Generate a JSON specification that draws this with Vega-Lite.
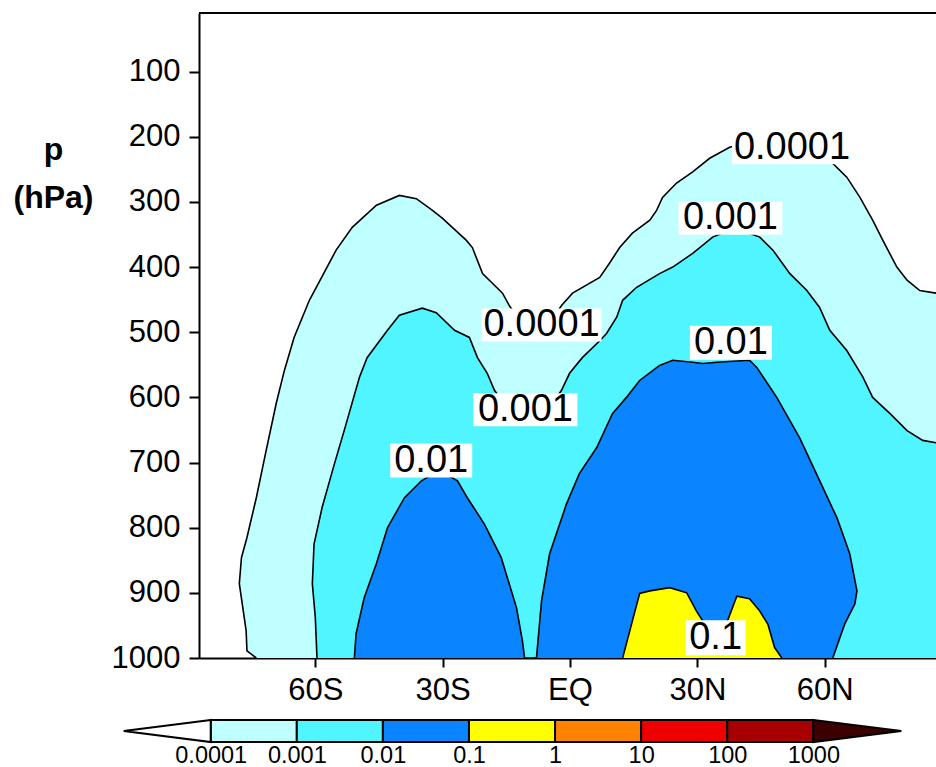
{
  "$schema": "https://vega.github.io/schema/vega-lite/v6.json",
  "background": "white",
  "padding": {"left": 13, "top": 12, "right": 0, "bottom": 0},
  "config": {"view": {"stroke": null}, "font": "Liberation Sans"},
  "spacing": 62,
  "bounds": "flush",
  "resolve": {"scale": {"x": "independent", "y": "independent", "shape": "independent", "color": "shared"}},
  "datasets": {
    "contours": [
      {"level": "0.0001", "lat": -73.9, "p": 1000}, {"level": "0.0001", "lat": -76.1, "p": 989}, {"level": "0.0001", "lat": -76.3, "p": 958}, {"level": "0.0001", "lat": -77.9, "p": 886}, {"level": "0.0001", "lat": -77.4, "p": 846}, {"level": "0.0001", "lat": -76.1, "p": 815}, {"level": "0.0001", "lat": -73.9, "p": 754}, {"level": "0.0001", "lat": -71.6, "p": 682}, {"level": "0.0001", "lat": -69.2, "p": 609}, {"level": "0.0001", "lat": -67.3, "p": 559}, {"level": "0.0001", "lat": -65.0, "p": 508}, {"level": "0.0001", "lat": -61.4, "p": 451}, {"level": "0.0001", "lat": -55.1, "p": 374}, {"level": "0.0001", "lat": -51.3, "p": 339}, {"level": "0.0001", "lat": -45.6, "p": 305}, {"level": "0.0001", "lat": -40.2, "p": 290}, {"level": "0.0001", "lat": -36.2, "p": 295}, {"level": "0.0001", "lat": -32.4, "p": 313}, {"level": "0.0001", "lat": -30.1, "p": 325}, {"level": "0.0001", "lat": -24.4, "p": 359}, {"level": "0.0001", "lat": -23.0, "p": 370}, {"level": "0.0001", "lat": -20.6, "p": 410}, {"level": "0.0001", "lat": -15.9, "p": 440}, {"level": "0.0001", "lat": -14.3, "p": 459}, {"level": "0.0001", "lat": -11.2, "p": 490}, {"level": "0.0001", "lat": -8.1, "p": 500}, {"level": "0.0001", "lat": -5.1, "p": 490}, {"level": "0.0001", "lat": -2.0, "p": 459}, {"level": "0.0001", "lat": 0.6, "p": 440}, {"level": "0.0001", "lat": 7.0, "p": 416}, {"level": "0.0001", "lat": 9.3, "p": 394}, {"level": "0.0001", "lat": 11.7, "p": 370}, {"level": "0.0001", "lat": 14.7, "p": 348}, {"level": "0.0001", "lat": 18.8, "p": 328}, {"level": "0.0001", "lat": 20.4, "p": 313}, {"level": "0.0001", "lat": 21.8, "p": 293}, {"level": "0.0001", "lat": 25.1, "p": 271}, {"level": "0.0001", "lat": 28.9, "p": 254}, {"level": "0.0001", "lat": 32.9, "p": 233}, {"level": "0.0001", "lat": 37.6, "p": 216}, {"level": "0.0001", "lat": 44.7, "p": 205}, {"level": "0.0001", "lat": 54.1, "p": 213}, {"level": "0.0001", "lat": 61.9, "p": 241}, {"level": "0.0001", "lat": 65.2, "p": 262}, {"level": "0.0001", "lat": 68.3, "p": 293}, {"level": "0.0001", "lat": 71.3, "p": 328}, {"level": "0.0001", "lat": 73.7, "p": 359}, {"level": "0.0001", "lat": 77.0, "p": 400}, {"level": "0.0001", "lat": 79.4, "p": 420}, {"level": "0.0001", "lat": 82.4, "p": 436}, {"level": "0.0001", "lat": 86.2, "p": 440}, {"level": "0.0001", "lat": 87.5, "p": 442},
      {"level": "0.001", "lat": -59.6, "p": 1000}, {"level": "0.001", "lat": -60.0, "p": 938}, {"level": "0.001", "lat": -60.7, "p": 886}, {"level": "0.001", "lat": -60.3, "p": 825}, {"level": "0.001", "lat": -58.4, "p": 769}, {"level": "0.001", "lat": -55.5, "p": 702}, {"level": "0.001", "lat": -53.2, "p": 651}, {"level": "0.001", "lat": -49.6, "p": 569}, {"level": "0.001", "lat": -47.8, "p": 539}, {"level": "0.001", "lat": -43.0, "p": 497}, {"level": "0.001", "lat": -40.2, "p": 474}, {"level": "0.001", "lat": -34.8, "p": 463}, {"level": "0.001", "lat": -31.5, "p": 470}, {"level": "0.001", "lat": -27.2, "p": 497}, {"level": "0.001", "lat": -23.7, "p": 508}, {"level": "0.001", "lat": -21.8, "p": 539}, {"level": "0.001", "lat": -19.5, "p": 563}, {"level": "0.001", "lat": -17.8, "p": 589}, {"level": "0.001", "lat": -14.3, "p": 620}, {"level": "0.001", "lat": -10.0, "p": 632}, {"level": "0.001", "lat": -5.3, "p": 620}, {"level": "0.001", "lat": -2.0, "p": 589}, {"level": "0.001", "lat": -0.1, "p": 563}, {"level": "0.001", "lat": 2.9, "p": 539}, {"level": "0.001", "lat": 7.0, "p": 513}, {"level": "0.001", "lat": 8.6, "p": 502}, {"level": "0.001", "lat": 11.0, "p": 477}, {"level": "0.001", "lat": 12.4, "p": 451}, {"level": "0.001", "lat": 15.7, "p": 431}, {"level": "0.001", "lat": 21.1, "p": 410}, {"level": "0.001", "lat": 24.2, "p": 400}, {"level": "0.001", "lat": 28.9, "p": 379}, {"level": "0.001", "lat": 33.6, "p": 354}, {"level": "0.001", "lat": 38.8, "p": 340}, {"level": "0.001", "lat": 44.7, "p": 354}, {"level": "0.001", "lat": 47.8, "p": 374}, {"level": "0.001", "lat": 51.8, "p": 410}, {"level": "0.001", "lat": 55.8, "p": 436}, {"level": "0.001", "lat": 58.8, "p": 462}, {"level": "0.001", "lat": 61.2, "p": 497}, {"level": "0.001", "lat": 65.2, "p": 528}, {"level": "0.001", "lat": 69.0, "p": 569}, {"level": "0.001", "lat": 71.3, "p": 600}, {"level": "0.001", "lat": 75.4, "p": 625}, {"level": "0.001", "lat": 79.4, "p": 651}, {"level": "0.001", "lat": 83.1, "p": 666}, {"level": "0.001", "lat": 87.5, "p": 671},
      {"level": "0.01", "lat": -50.8, "p": 1000}, {"level": "0.01", "lat": -50.4, "p": 963}, {"level": "0.01", "lat": -48.5, "p": 908}, {"level": "0.01", "lat": -45.6, "p": 855}, {"level": "0.01", "lat": -43.0, "p": 800}, {"level": "0.01", "lat": -39.0, "p": 754}, {"level": "0.01", "lat": -35.0, "p": 728}, {"level": "0.01", "lat": -30.8, "p": 712}, {"level": "0.01", "lat": -26.5, "p": 728}, {"level": "0.01", "lat": -24.2, "p": 754}, {"level": "0.01", "lat": -20.2, "p": 794}, {"level": "0.01", "lat": -16.2, "p": 846}, {"level": "0.01", "lat": -12.6, "p": 923}, {"level": "0.01", "lat": -11.2, "p": 974}, {"level": "0.01", "lat": -10.7, "p": 1000}, {"level": "0.01", "lat": -7.9, "p": 1000}, {"level": "0.01", "lat": -6.7, "p": 912}, {"level": "0.01", "lat": -4.8, "p": 840}, {"level": "0.01", "lat": -0.8, "p": 763}, {"level": "0.01", "lat": 2.2, "p": 717}, {"level": "0.01", "lat": 6.3, "p": 677}, {"level": "0.01", "lat": 10.0, "p": 625}, {"level": "0.01", "lat": 13.3, "p": 600}, {"level": "0.01", "lat": 16.4, "p": 574}, {"level": "0.01", "lat": 21.1, "p": 551}, {"level": "0.01", "lat": 24.2, "p": 543}, {"level": "0.01", "lat": 28.9, "p": 546}, {"level": "0.01", "lat": 31.3, "p": 548}, {"level": "0.01", "lat": 34.6, "p": 546}, {"level": "0.01", "lat": 42.3, "p": 543}, {"level": "0.01", "lat": 44.0, "p": 554}, {"level": "0.01", "lat": 48.7, "p": 600}, {"level": "0.01", "lat": 54.1, "p": 662}, {"level": "0.01", "lat": 59.6, "p": 739}, {"level": "0.01", "lat": 62.9, "p": 785}, {"level": "0.01", "lat": 65.9, "p": 840}, {"level": "0.01", "lat": 67.6, "p": 897}, {"level": "0.01", "lat": 67.1, "p": 917}, {"level": "0.01", "lat": 64.7, "p": 948}, {"level": "0.01", "lat": 61.9, "p": 1000},
      {"level": "0.1", "lat": 12.4, "p": 1000}, {"level": "0.1", "lat": 14.7, "p": 943}, {"level": "0.1", "lat": 16.4, "p": 901}, {"level": "0.1", "lat": 18.8, "p": 897}, {"level": "0.1", "lat": 23.5, "p": 892}, {"level": "0.1", "lat": 27.5, "p": 900}, {"level": "0.1", "lat": 29.8, "p": 928}, {"level": "0.1", "lat": 34.3, "p": 974}, {"level": "0.1", "lat": 37.1, "p": 943}, {"level": "0.1", "lat": 39.3, "p": 905}, {"level": "0.1", "lat": 42.3, "p": 909}, {"level": "0.1", "lat": 44.7, "p": 928}, {"level": "0.1", "lat": 46.6, "p": 948}, {"level": "0.1", "lat": 48.2, "p": 984}, {"level": "0.1", "lat": 49.9, "p": 1000}
    ],
    "labels": [
      {"label": "0.0001", "lat": 52.3, "p": 217},
      {"label": "0.001", "lat": 37.8, "p": 325},
      {"label": "0.0001", "lat": -6.7, "p": 489},
      {"label": "0.01", "lat": 37.9, "p": 516},
      {"label": "0.001", "lat": -10.5, "p": 619},
      {"label": "0.01", "lat": -32.7, "p": 697},
      {"label": "0.1", "lat": 34.3, "p": 969}
    ],
    "bins": [
      {"level": "0.0001", "lo": 0.0001, "hi": 0.001},
      {"level": "0.001", "lo": 0.001, "hi": 0.01},
      {"level": "0.01", "lo": 0.01, "hi": 0.1},
      {"level": "0.1", "lo": 0.1, "hi": 1},
      {"level": "1", "lo": 1, "hi": 10},
      {"level": "10", "lo": 10, "hi": 100},
      {"level": "100", "lo": 100, "hi": 1000}
    ],
    "ends": [
      {"level": "0", "edge": 0.0001, "dir": "left"},
      {"level": "1000", "edge": 1000, "dir": "right"}
    ]
  },
  "vconcat": [
    {
      "width": 737,
      "height": 645,
      "layer": [
        {
          "data": {"name": "contours"},
          "transform": [{"filter": "datum.level == '0.0001'"}],
          "mark": {"type": "area", "clip": true, "opacity": 1},
          "encoding": {
            "x": {"field": "lat", "type": "quantitative", "scale": {"domain": [-87.4, 86.22], "nice": false, "zero": false},
              "axis": {"values": [-60, -30, 0, 30, 60], "labelExpr": "datum.value == 0 ? 'EQ' : (datum.value < 0 ? (-datum.value) + 'S' : datum.value + 'N')", "title": null, "grid": false, "tickSize": 9, "tickWidth": 2, "tickColor": "black", "domainColor": "black", "domainWidth": 2, "labelFont": "Liberation Sans", "labelFontSize": 31, "labelColor": "black", "labelPadding": 8, "labelFlush": false, "labelOverlap": false}},
            "y": {"field": "p", "type": "quantitative", "stack": null, "scale": {"domain": [10, 1000], "reverse": true, "nice": false, "zero": false},
              "axis": {"values": [100, 200, 300, 400, 500, 600, 700, 800, 900, 1000], "format": "d", "title": ["p", "(hPa)"], "grid": false, "tickSize": 10, "tickWidth": 2, "tickColor": "black", "domainColor": "black", "domainWidth": 2, "labelFont": "Liberation Sans", "labelFontSize": 31, "labelColor": "black", "labelPadding": 9, "labelFlush": false, "labelOverlap": false, "titleFont": "Liberation Sans", "titleFontWeight": "bold", "titleFontSize": 32, "titleColor": "black", "titleAngle": 0, "titleAlign": "center", "titleBaseline": "alphabetic", "titleX": -146, "titleY": 146, "titleLineHeight": 48}},
            "y2": {"datum": 1000},
            "color": {"field": "level", "type": "nominal", "scale": {"domain": ["0", "0.0001", "0.001", "0.01", "0.1", "1", "10", "100", "1000"], "range": ["#ffffff", "#bfffff", "#50f5ff", "#0a84ff", "#ffff00", "#ff8200", "#ee0000", "#a80000", "#3c0000"]}, "legend": null},
            "order": {"value": null}
          }
        },
        {
          "data": {"name": "contours"},
          "transform": [{"filter": "datum.level == '0.001'"}],
          "mark": {"type": "area", "clip": true, "opacity": 1},
          "encoding": {
            "x": {"field": "lat", "type": "quantitative"},
            "y": {"field": "p", "type": "quantitative", "stack": null},
            "y2": {"datum": 1000},
            "color": {"field": "level", "type": "nominal", "legend": null},
            "order": {"value": null}
          }
        },
        {
          "data": {"name": "contours"},
          "transform": [{"filter": "datum.level == '0.01'"}],
          "mark": {"type": "area", "clip": true, "opacity": 1},
          "encoding": {
            "x": {"field": "lat", "type": "quantitative"},
            "y": {"field": "p", "type": "quantitative", "stack": null},
            "y2": {"datum": 1000},
            "color": {"field": "level", "type": "nominal", "legend": null},
            "order": {"value": null}
          }
        },
        {
          "data": {"name": "contours"},
          "transform": [{"filter": "datum.level == '0.1'"}],
          "mark": {"type": "area", "clip": true, "opacity": 1},
          "encoding": {
            "x": {"field": "lat", "type": "quantitative"},
            "y": {"field": "p", "type": "quantitative", "stack": null},
            "y2": {"datum": 1000},
            "color": {"field": "level", "type": "nominal", "legend": null},
            "order": {"value": null}
          }
        },
        {
          "data": {"name": "contours"},
          "mark": {"type": "line", "color": "black", "strokeWidth": 1.6, "clip": true},
          "encoding": {
            "x": {"field": "lat", "type": "quantitative"},
            "y": {"field": "p", "type": "quantitative"},
            "detail": {"field": "level"},
            "order": {"value": null}
          }
        },
        {
          "data": {"values": [{}]},
          "mark": {"type": "rule", "color": "black", "strokeWidth": 2},
          "encoding": {"y": {"datum": 10, "type": "quantitative"}}
        },
        {
          "data": {"name": "labels"},
          "mark": {"type": "point", "filled": true, "color": "white", "opacity": 1, "size": 4, "strokeWidth": 0},
          "encoding": {
            "x": {"field": "lat", "type": "quantitative"},
            "y": {"field": "p", "type": "quantitative"},
            "shape": {"field": "label", "type": "nominal", "scale": {"domain": ["0.0001", "0.001", "0.01", "0.1"], "range": ["M-60,-16.5H60V16.5H-60Z", "M-52,-16.5H52V16.5H-52Z", "M-41,-17H41V17H-41Z", "M-30,-17.5H30V17.5H-30Z"]}, "legend": null}
          }
        },
        {
          "data": {"name": "labels"},
          "mark": {"type": "text", "font": "Liberation Sans", "fontSize": 38, "color": "black", "align": "center", "baseline": "middle"},
          "encoding": {
            "x": {"field": "lat", "type": "quantitative"},
            "y": {"field": "p", "type": "quantitative"},
            "text": {"field": "label"}
          }
        }
      ]
    },
    {
      "width": 700,
      "height": 22,
      "layer": [
        {
          "data": {"name": "bins"},
          "mark": {"type": "rect", "stroke": "black", "strokeWidth": 2, "opacity": 1},
          "encoding": {
            "x": {"field": "lo", "type": "quantitative", "scale": {"type": "log", "domain": [0.0000731, 9890], "nice": false},
              "axis": {"values": [0.0001, 0.001, 0.01, 0.1, 1, 10, 100, 1000], "labelExpr": "format(datum.value, '.4~f')", "title": null, "ticks": false, "tickSize": 0, "domain": false, "grid": false, "labelFont": "Liberation Sans", "labelFontSize": 23.5, "labelColor": "black", "labelPadding": 1, "labelFlush": false, "labelOverlap": false}},
            "x2": {"field": "hi"},
            "color": {"field": "level", "type": "nominal", "legend": null}
          }
        },
        {
          "data": {"name": "ends"},
          "mark": {"type": "point", "filled": true, "opacity": 1, "size": 4, "stroke": "black", "strokeWidth": 2},
          "encoding": {
            "x": {"field": "edge", "type": "quantitative"},
            "shape": {"field": "dir", "type": "nominal", "scale": {"domain": ["left", "right"], "range": ["M0,-11L-87,0L0,11Z", "M0,-11L88,0L0,11Z"]}, "legend": null},
            "color": {"field": "level", "type": "nominal", "legend": null}
          }
        }
      ]
    }
  ]
}
